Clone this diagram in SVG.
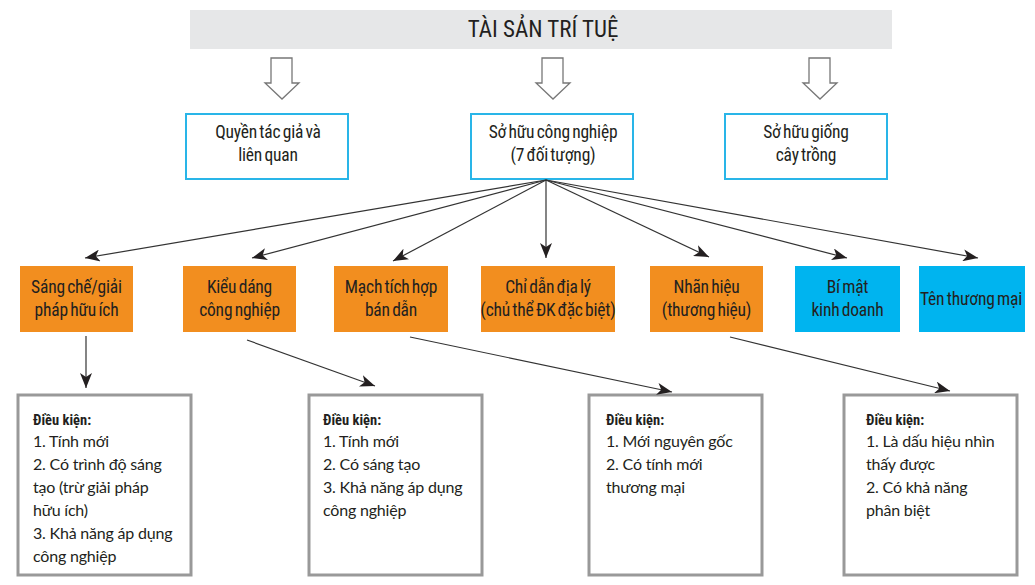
<svg xmlns="http://www.w3.org/2000/svg" width="1035" height="585" viewBox="0 0 1035 585">
<style>
.cond{font-family:"Liberation Sans Narrow","Roboto Condensed","DejaVu Sans Condensed","Liberation Sans",sans-serif;fill:#231f20;text-anchor:middle}
.lbl{font-size:17.5px;letter-spacing:-0.2px;word-spacing:-1.5px}
.title{font-size:23px}
.blue{fill:#fff;stroke:#29b5e8;stroke-width:2}
.org{fill:#f28e1f}
.cyan{fill:#00b4ef}
.cond-box{fill:#fff;stroke:#999;stroke-width:3}
.body{font-family:Lato,"Liberation Sans",sans-serif;font-size:16px;letter-spacing:-0.2px;fill:#231f20}
.head{font-family:"Liberation Sans Narrow","Roboto Condensed","DejaVu Sans Condensed","Liberation Sans",sans-serif;font-size:14.5px;font-weight:bold;fill:#231f20}
.hollow{fill:#fff;stroke:#777;stroke-width:1.3}
.con{stroke:#333;stroke-width:1.2;fill:none;marker-end:url(#ah)}
</style>
<defs>
<marker id="ah" markerUnits="userSpaceOnUse" markerWidth="16" markerHeight="12" refX="15" refY="6" orient="auto">
<path d="M0,0 L15,6 L0,12 L4,6 Z" fill="#231f20"/>
</marker>
</defs>
<g id="title">
<rect x="190" y="10" width="702" height="39" fill="#e6e7e8"/>
<text class="cond title" x="543" y="37">TÀI SẢN TRÍ TUỆ</text>
</g>
<g id="hollow-arrows">
<polygon class="hollow" points="271,58 292,58 292,83 299,83 282,99 265,83 271,83"/>
<polygon class="hollow" points="542,58 563,58 563,83 570,83 553,99 536,83 542,83"/>
<polygon class="hollow" points="809,58 830,58 830,83 837,83 820,99 803,83 809,83"/>
</g>
<g id="n-quyen">
<rect class="blue" x="186" y="114" width="162" height="65"/>
<text class="cond lbl" x="268" y="138">Quyền tác giả và</text>
<text class="cond lbl" x="268" y="161">liên quan</text>
</g>
<g id="n-sohuucn">
<rect class="blue" x="471" y="114" width="162" height="65"/>
<text class="cond lbl" x="553" y="138">Sở hữu công nghiệp</text>
<text class="cond lbl" x="553" y="161">(7 đối tượng)</text>
</g>
<g id="n-giong">
<rect class="blue" x="725" y="114" width="162" height="65"/>
<text class="cond lbl" x="806" y="138">Sở hữu giống</text>
<text class="cond lbl" x="806" y="161">cây trồng</text>
</g>
<g id="n-sangche">
<rect class="org" x="20" y="266" width="113" height="66"/>
<text class="cond lbl" x="76.5" y="293">Sáng chế/giải</text>
<text class="cond lbl" x="76.5" y="316">pháp hữu ích</text>
</g>
<g id="n-kieudang">
<rect class="org" x="183" y="266" width="113" height="66"/>
<text class="cond lbl" x="239.5" y="293">Kiểu dáng</text>
<text class="cond lbl" x="239.5" y="316">công nghiệp</text>
</g>
<g id="n-mach">
<rect class="org" x="334" y="266" width="114" height="66"/>
<text class="cond lbl" x="391" y="293">Mạch tích hợp</text>
<text class="cond lbl" x="391" y="316">bán dẫn</text>
</g>
<g id="n-chidan">
<rect class="org" x="481" y="266" width="134" height="66"/>
<text class="cond lbl" x="548" y="293">Chỉ dẫn địa lý</text>
<text class="cond lbl" x="548" y="316">(chủ thể ĐK đặc biệt)</text>
</g>
<g id="n-nhanhieu">
<rect class="org" x="650" y="266" width="113" height="66"/>
<text class="cond lbl" x="706.5" y="293">Nhãn hiệu</text>
<text class="cond lbl" x="706.5" y="316">(thương hiệu)</text>
</g>
<g id="n-bimat">
<rect class="cyan" x="795" y="266" width="105" height="66"/>
<text class="cond lbl" x="847.5" y="293">Bí mật</text>
<text class="cond lbl" x="847.5" y="316">kinh doanh</text>
</g>
<g id="n-tenthuongmai">
<rect class="cyan" x="919" y="266" width="106" height="66"/>
<text class="cond lbl" x="971" y="305">Tên thương mại</text>
</g>
<g id="n-dk1">
<rect class="cond-box" x="18" y="395" width="173" height="180"/>
<text class="head" x="33" y="425">Điều kiện:</text>
<text class="body" x="33" y="447">1. Tính mới</text>
<text class="body" x="33" y="470">2. Có trình độ sáng</text>
<text class="body" x="33" y="493">tạo (trừ giải pháp</text>
<text class="body" x="33" y="516">hữu ích)</text>
<text class="body" x="33" y="539">3. Khả năng áp dụng</text>
<text class="body" x="33" y="562">công nghiệp</text>
</g>
<g id="n-dk2">
<rect class="cond-box" x="309" y="395" width="173" height="180"/>
<text class="head" x="323" y="425">Điều kiện:</text>
<text class="body" x="323" y="447">1. Tính mới</text>
<text class="body" x="323" y="470">2. Có sáng tạo</text>
<text class="body" x="323" y="493">3. Khả năng áp dụng</text>
<text class="body" x="323" y="516">công nghiệp</text>
</g>
<g id="n-dk3">
<rect class="cond-box" x="589" y="395" width="173" height="180"/>
<text class="head" x="606" y="425">Điều kiện:</text>
<text class="body" x="606" y="447">1. Mới nguyên gốc</text>
<text class="body" x="606" y="470">2. Có tính mới</text>
<text class="body" x="606" y="493">thương mại</text>
</g>
<g id="n-dk4">
<rect class="cond-box" x="844" y="395" width="173" height="180"/>
<text class="head" x="866" y="425">Điều kiện:</text>
<text class="body" x="866" y="447">1. Là dấu hiệu nhìn</text>
<text class="body" x="866" y="470">thấy được</text>
<text class="body" x="866" y="493">2. Có khả năng</text>
<text class="body" x="866" y="516">phân biệt</text>
</g>
<g id="connectors">
<line class="con" x1="546" y1="180" x2="85" y2="258"/>
<line class="con" x1="546" y1="180" x2="252" y2="258"/>
<line class="con" x1="546" y1="180" x2="393" y2="261"/>
<line class="con" x1="546" y1="180" x2="546" y2="258"/>
<line class="con" x1="546" y1="180" x2="709" y2="257"/>
<line class="con" x1="546" y1="180" x2="847" y2="258"/>
<line class="con" x1="546" y1="180" x2="978" y2="258"/>
<line class="con" x1="86" y1="336" x2="86" y2="388"/>
<line class="con" x1="247" y1="340" x2="375" y2="386"/>
<line class="con" x1="410" y1="337" x2="672" y2="392"/>
<line class="con" x1="730" y1="337" x2="950" y2="391"/>
</g>
</svg>
